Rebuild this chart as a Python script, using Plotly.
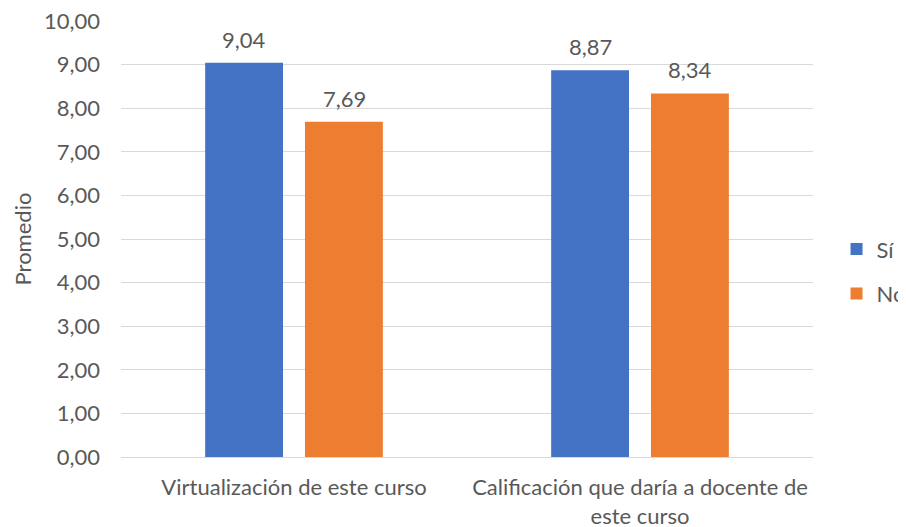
import plotly.graph_objects as go

categories = ["Virtualización de este curso", "Calificación que daría a docente de<br>este curso"]
series_names = ["Sí", "No"]
si_values = [9.04, 8.87]
no_values = [7.69, 8.34]
colors = ["#4472C4", "#ED7D31"]
y_ticks = [0, 1, 2, 3, 4, 5, 6, 7, 8, 9, 10]

FONT = "Lato, Carlito, Calibri, Liberation Sans, sans-serif"
TXT = "#595959"
FS = 22

fig = go.Figure()
for name, vals, col in zip(series_names, [si_values, no_values], colors):
    fig.add_trace(go.Bar(
        x=categories, y=vals, name=name, marker_color=col,
        marker_line_width=0, legendgroup=name,
    ))

# data labels placed above each bar
slot_shift = {"Sí": -50, "No": 50}
for name, vals in zip(series_names, [si_values, no_values]):
    for cat, v in zip(categories, vals):
        fig.add_annotation(
            x=cat, y=v, xref="x", yref="y", text=f"{v:.2f}".replace(".", ","),
            showarrow=False, xshift=slot_shift[name], yshift=8,
            yanchor="bottom", font=dict(size=FS, color=TXT, family=FONT),
        )

fig.update_layout(
    width=906, height=527,
    margin=dict(l=113, r=101, t=13, b=78, autoexpand=False),
    paper_bgcolor="white", plot_bgcolor="white",
    separators=",.",
    barmode="group", bargap=0.423, bargroupgap=0.22,
    font=dict(family=FONT, size=FS, color=TXT),
    showlegend=True,
    legend=dict(x=1.034, xanchor="left", y=0.425, yanchor="middle",
                font=dict(size=FS, color=TXT), tracegroupgap=13,
                bgcolor="rgba(0,0,0,0)"),
    yaxis=dict(range=[0, 10], tickvals=y_ticks, tickformat=".2f",
               showgrid=True, gridcolor="#D9D9D9", gridwidth=1.3,
               zeroline=True, zerolinecolor="#D9D9D9", zerolinewidth=1.3,
               showline=False, ticks="", ticklen=0, automargin=False,
               ticklabeloverflow="allow",
               tickfont=dict(size=FS, color=TXT), ticklabelstandoff=20,
               title=dict(text="Promedio", font=dict(size=FS, color=TXT), standoff=6)),
    xaxis=dict(showgrid=False, showline=False, ticks="", automargin=False,
               ticklabeloverflow="allow",
               tickfont=dict(size=FS, color=TXT), ticklabelstandoff=15),
)

fig.write_html("out.html")
